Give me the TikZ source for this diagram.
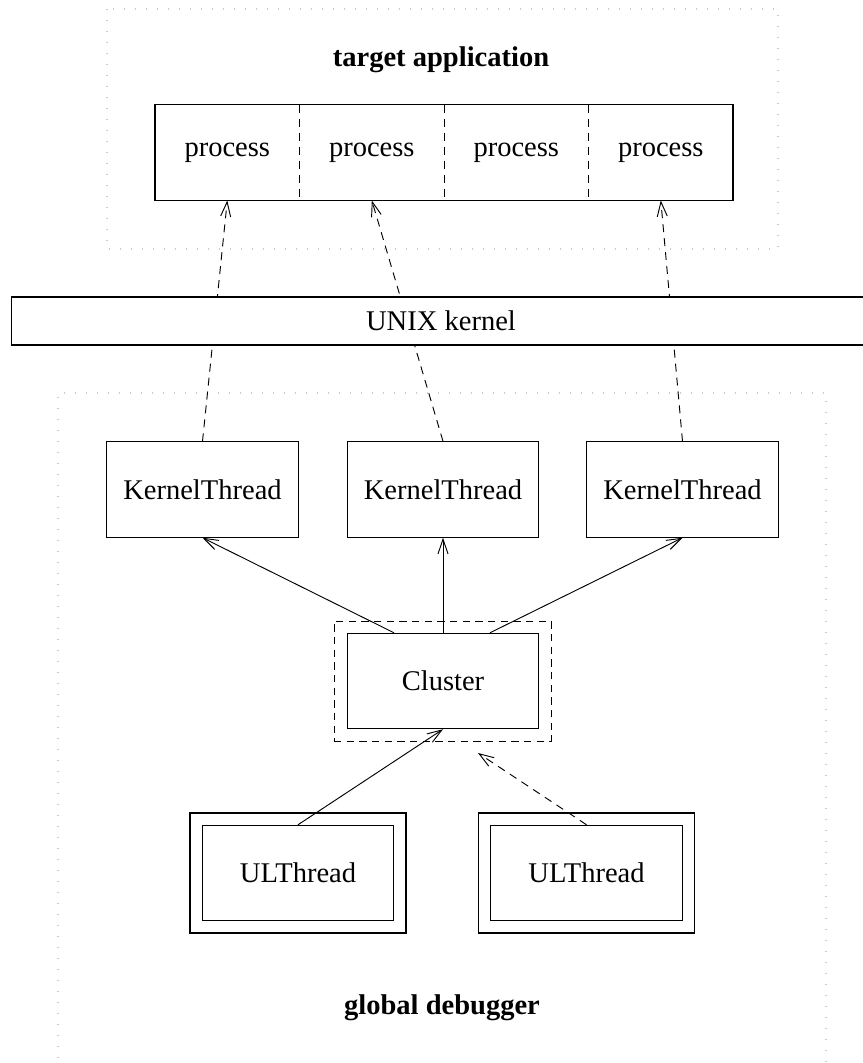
\documentclass[tikz,border=0pt]{standalone}
\usepackage{fontspec}
\setmainfont{Liberation Serif}
\usetikzlibrary{arrows.meta,calc}
\tikzset{
  every node/.style={font=\fontsize{21.4}{25}\selectfont},
  box/.style={draw,line width=0.85pt,rectangle,inner sep=0pt},
  ktbox/.style={box,minimum width=143.5pt,minimum height=71.5pt},
  cell/.style={rectangle,inner sep=0pt,minimum width=108.4pt,minimum height=71.5pt},
  frame/.style={gray!40,line width=0.8pt,dash pattern=on 0.8pt off 7.45pt},
  open/.style={-{Straight Barb[length=11pt,width=7.5pt]}},
  uses/.style={open,line width=0.7pt},
  calls/.style={open,line width=0.7pt,dash pattern=on 6pt off 4.5pt},
  heading/.style={font=\fontsize{21.4}{25}\selectfont\bfseries}
}
\begin{document}
\begin{tikzpicture}[x=0.75pt,y=-0.75pt]
\useasboundingbox (0,0) rectangle (863,1063);

% dotted frames of the two programs
\draw[frame] (107,9) rectangle (778,249);
\draw[frame] (58,1080) -- (58,393) -- (826,393) -- (826,1080);

% target application
\node[heading] (tapp) at (441,60) {target application};
\node[box,minimum width=433.5pt,minimum height=71.5pt] (procs) at (444,152.5) {};
\node[cell] (p1) at (227.3,152.5) {process};
\node[cell] (p2) at (371.8,152.5) {process};
\node[cell] (p3) at (516.3,152.5) {process};
\node[cell] (p4) at (660.8,152.5) {process};
\foreach \a/\b in {p1/p2,p2/p3,p3/p4}
  \draw[line width=0.75pt,dash pattern=on 6pt off 4.5pt] (\a.north east) -- (\a.south east);

% kernel threads
\node[ktbox] (kt1) at (202.5,489.5) {KernelThread};
\node[ktbox] (kt2) at (443,489.5) {KernelThread};
\node[ktbox] (kt3) at (682.5,489.5) {KernelThread};

% system calls through the kernel
\draw[calls] (kt1.north) -- (p1.south);
\draw[calls] (kt2.north) -- (p2.south);
\draw[calls] (kt3.north) -- (p4.south);

% UNIX kernel band
\node[draw,line width=0.85pt,fill=white,inner sep=0pt,minimum height=36pt,minimum width=660pt,anchor=west] (kern) at (11,321) {};
\node (kname) at (441,321) {UNIX kernel};

% cluster
\node[draw,line width=0.7pt,dash pattern=on 5.5pt off 4pt,minimum width=162.75pt,minimum height=90pt,inner sep=0pt] (clo) at (442.5,681) {};
\node[ktbox] (cl) at (443,681) {Cluster};
\draw[uses] ($(cl.north)+(-49,0)$) -- (kt1.south);
\draw[uses] (cl.north) -- (kt2.south);
\draw[uses] ($(cl.north)+(47,0)$) -- (kt3.south);

% user level threads
\node[box,minimum width=162pt,minimum height=90pt] (u1o) at (298,873) {};
\node[ktbox] (u1) at (298,873) {ULThread};
\node[box,minimum width=162pt,minimum height=90pt] (u2o) at (586.5,873) {};
\node[ktbox] (u2) at (586.5,873) {ULThread};
\coordinate (u2end) at (478,753);
\draw[uses] (u1.north) -- (cl.south);
\draw[calls] (u2.north) -- (u2end);

\node[heading] (gdb) at (442,1008) {global debugger};
\end{tikzpicture}
\end{document}
